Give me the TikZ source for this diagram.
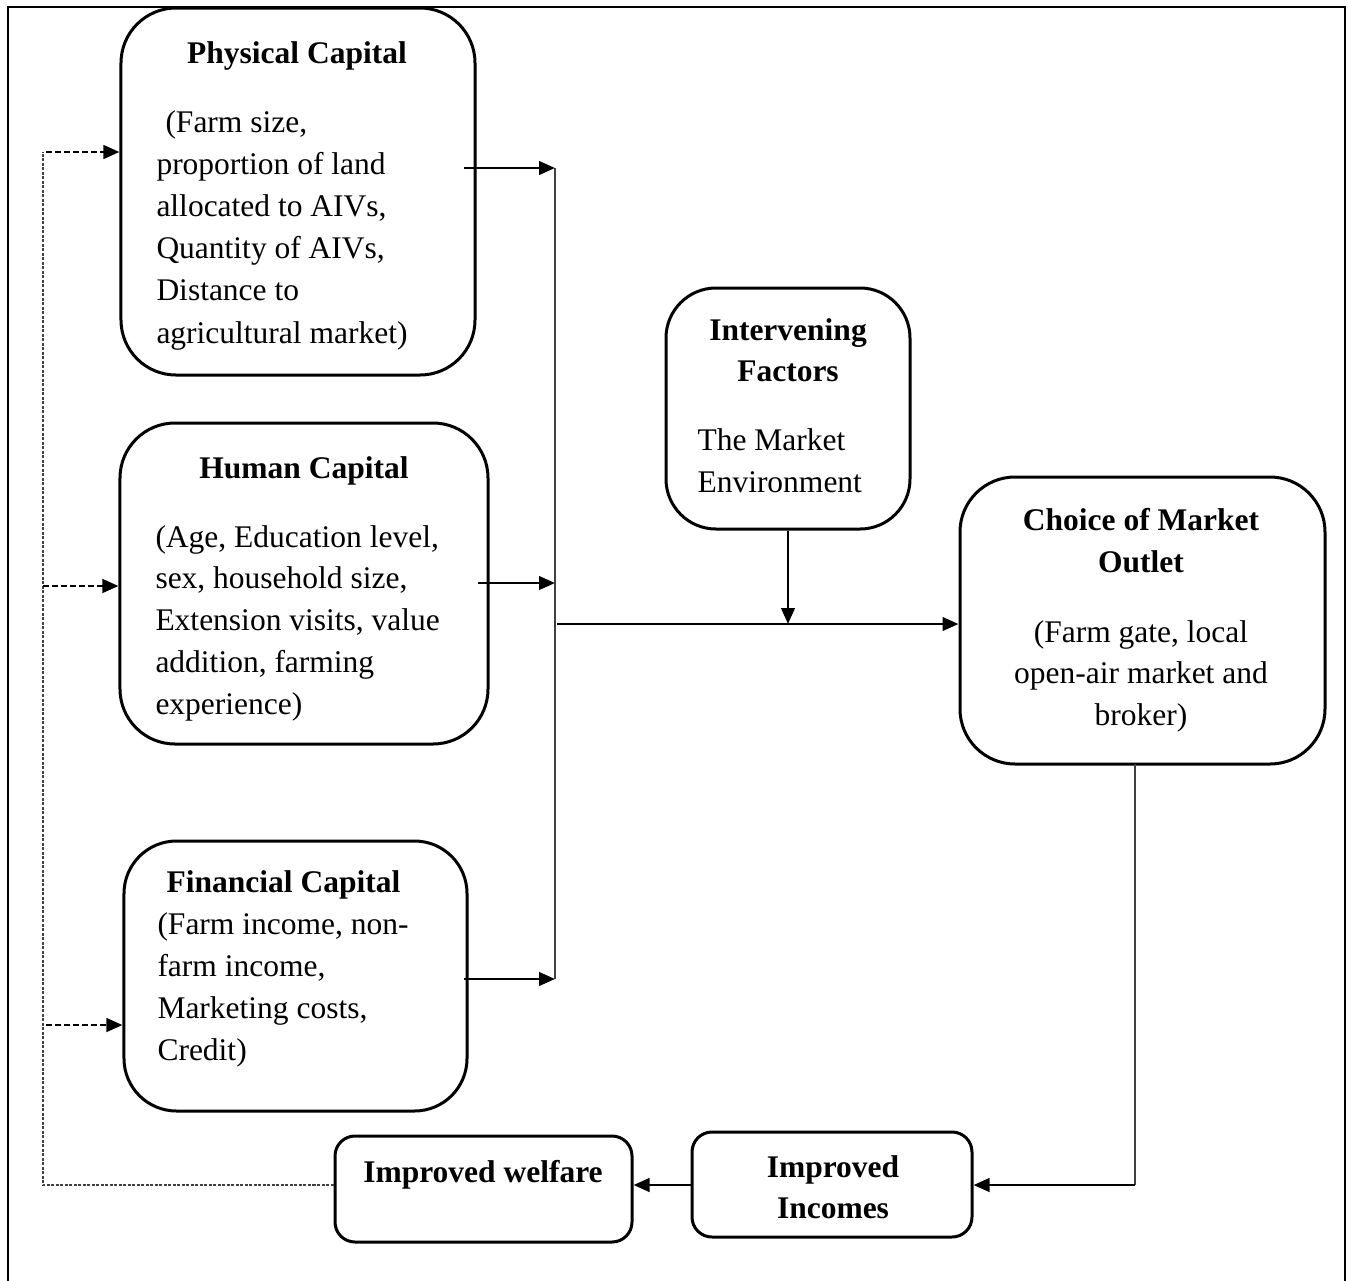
\documentclass[tikz,border=0pt]{standalone}
\usepackage{fontspec}
\setmainfont{Liberation Serif}
\usetikzlibrary{arrows.meta}
\begin{document}
\begin{tikzpicture}[x=0.4pt,y=-0.4pt,
  frame/.style={line width=1pt},
  box/.style={draw, line width=1.2pt, rounded corners=#1, inner sep=0pt},
  ttl/.style={font=\fontsize{12.6}{15}\selectfont\bfseries, inner sep=0pt, anchor=base},
  txt/.style={font=\fontsize{12.6}{15}\selectfont, inner sep=0pt, anchor=base west},
  txc/.style={font=\fontsize{12.6}{15}\selectfont, inner sep=0pt, anchor=base},
  arr/.style={-{Triangle[length=6.4pt,width=5.4pt]}, line width=1.1pt},
  dsh/.style={arr, dash pattern=on 2.4pt off 1.2pt},
  fb/.style={line width=0.5pt, black!75, dash pattern=on 1.2pt off 0.6pt},
  thinln/.style={line width=0.55pt, black!75}]
\useasboundingbox (0,0) rectangle (1348,1281);
\draw[frame] (8,1281) -- (8,7) -- (1345,7) -- (1345,1281);

% boxes
\node[box=22pt, minimum width=141.6pt, minimum height=146.8pt] (pc) at (298,191.5) {};
\node[box=22pt, minimum width=147.2pt, minimum height=128.4pt] (hc) at (304,583.5) {};
\node[box=21pt, minimum width=137.2pt, minimum height=108pt] (fc) at (295.5,976) {};
\node[box=20pt, minimum width=97.6pt, minimum height=96.4pt] (ifb) at (788,408.5) {};
\node[box=22pt, minimum width=146pt, minimum height=114.8pt] (co) at (1142.5,620.5) {};
\node[box=8pt, minimum width=118.8pt, minimum height=42.4pt] (iw) at (483.5,1189) {};
\node[box=8pt, minimum width=112pt, minimum height=42pt] (ii) at (832,1184.5) {};

% Physical capital text
\node[ttl] (pct) at (297,63) {Physical Capital};
\node[txt] (pc1) at (165,132) {(Farm size,};
\node[txt] (pc2) at (156,174.2) {proportion of land};
\node[txt] (pc3) at (156,216.4) {allocated to AIVs,};
\node[txt] (pc4) at (156,258.6) {Quantity of AIVs,};
\node[txt] (pc5) at (156,300.8) {Distance to};
\node[txt] (pc6) at (156,343) {agricultural market)};

% Human capital text
\node[ttl] (hct) at (304,478) {Human Capital};
\node[txt] (hc1) at (155,547) {(Age, Education level,};
\node[txt] (hc2) at (155,588.5) {sex, household size,};
\node[txt] (hc3) at (155,630) {Extension visits, value};
\node[txt] (hc4) at (155,672) {addition, farming};
\node[txt] (hc5) at (155,714) {experience)};

% Financial capital text
\node[ttl] (fct) at (283.5,892) {Financial Capital};
\node[txt] (fc1) at (157,934) {(Farm income, non-};
\node[txt] (fc2) at (157,976) {farm income,};
\node[txt] (fc3) at (157,1018) {Marketing costs,};
\node[txt] (fc4) at (157,1060) {Credit)};

% Intervening factors text
\node[ttl] (ift1) at (788,340) {Intervening};
\node[ttl] (ift2) at (788,381) {Factors};
\node[txt] (if1) at (697,450) {The Market};
\node[txt] (if2) at (697,492) {Environment};

% Choice of market outlet text
\node[ttl] (cot1) at (1141,530) {Choice of Market};
\node[ttl] (cot2) at (1141,572) {Outlet};
\node[txc] (co1) at (1141,642) {(Farm gate, local};
\node[txc] (co2) at (1141,683) {open-air market and};
\node[txc] (co3) at (1141,725) {broker)};

% bottom boxes text
\node[ttl] (iwt) at (483,1182) {Improved welfare};
\node[ttl] (iit1) at (833,1177) {Improved};
\node[ttl] (iit2) at (833,1218) {Incomes};

% collector
\coordinate (colT) at (555,168);
\coordinate (colB) at (555,979);
\coordinate (colM) at (557,624);
\draw[thinln] (colT) -- (colB);
\coordinate (pa) at (464,168);
\coordinate (ha) at (478,583);
\coordinate (fa) at (464,979);
\draw[arr] (pa) -- (pa -| colT);
\draw[arr] (ha) -- (ha -| colT);
\draw[arr] (fa) -- (fa -| colT);
\draw[arr] (colM) -- (co.west |- colM);
\draw[arr] (ifb.south) -- (ifb.south |- colM);

% outlet to incomes to welfare
\coordinate (cvt) at (1135,764);
\coordinate (cvb) at (1135,1185);
\draw[thinln] (cvt) -- (cvb);
\draw[arr] (cvb) -- (ii.east |- cvb);
\draw[arr] (ii.west |- cvb) -- (iw.east |- cvb);

% feedback
\coordinate (fbc) at (43,1185);
\coordinate (fbt) at (43,152);
\draw[fb] (iw.west |- cvb) -- (fbc) -- (fbt);
\coordinate (d1) at (46,152);
\coordinate (d2) at (43,586);
\coordinate (d3) at (46,1025);
\draw[dsh] (d1) -- (d1 -| pc.west);
\draw[dsh] (d2) -- (d2 -| hc.west);
\draw[dsh] (d3) -- (d3 -| fc.west);
\end{tikzpicture}
\end{document}
